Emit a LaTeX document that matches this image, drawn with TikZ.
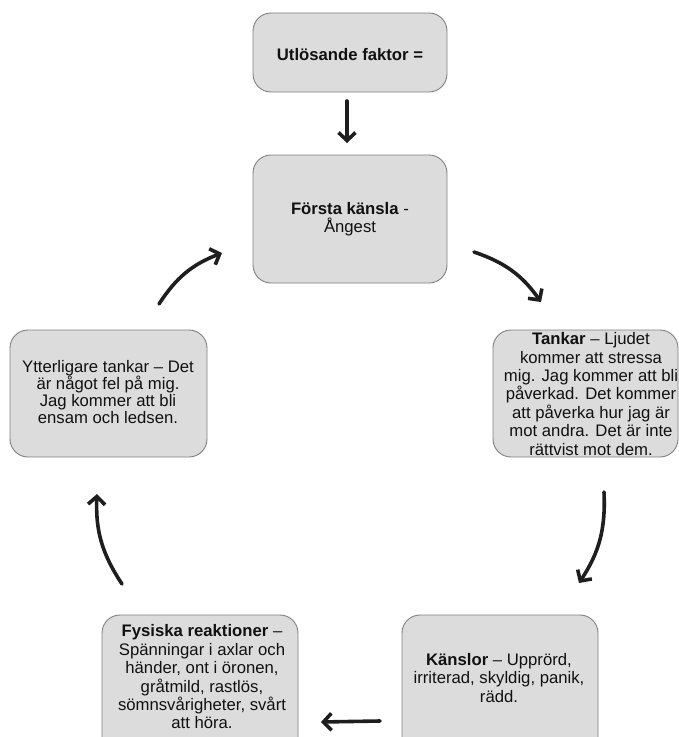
\documentclass[tikz,border=0pt]{standalone}
\usepackage{fontspec}
\setmainfont{Liberation Sans}
\usetikzlibrary{arrows.meta,positioning}
\definecolor{boxfill}{HTML}{DCDCDC}
\definecolor{boxdraw}{HTML}{808080}
\definecolor{arrowc}{HTML}{1E1E1E}
\definecolor{txt}{HTML}{111111}
\tikzset{
  box/.style={draw=boxdraw, line width=0.9pt, fill=boxfill, rounded corners=18pt},
  txtnode/.style={align=center, text=txt, inner sep=0pt, font=\fontsize{16.7}{18.4}\selectfont},
  flow/.style={draw=arrowc, line width=3.6pt, line cap=round,
    -{Straight Barb[length=8pt,width=17pt,line width=3.6pt]}},
}
\begin{document}
\begin{tikzpicture}[x=1pt,y=-1pt]
\useasboundingbox (0,0) rectangle (679,737);
\clip (0,0) rectangle (679,737);
% boxes
\draw[box] (253,13) rectangle (447,92);
\node[txtnode] (t1) at (350,55) {\textbf{Utlösande faktor =}};
\draw[box] (253,155) rectangle (447,283);
\node[txtnode, font=\fontsize{16.7}{17.4}\selectfont] (t2) at (350,219) {\textbf{Första känsla} -\\Ångest};
\draw[box] (493,330) rectangle (678,457);
\node[txtnode] (t3) at (591,394) {\textbf{Tankar} – Ljudet\\kommer att stressa\\mig. Jag kommer att bli\\påverkad. Det kommer\\att påverka hur jag är\\mot andra. Det är inte\\rättvist mot dem.};
\draw[box] (10,330) rectangle (207,457);
\node[txtnode, font=\fontsize{16.7}{17.2}\selectfont] (t6) at (108,392) {Ytterligare tankar – Det\\är något fel på mig.\\Jag kommer att bli\\ensam och ledsen.};
\draw[box] (102,615) rectangle (298,760);
\node[txtnode] (t5) at (202,677) {\textbf{Fysiska reaktioner} –\\Spänningar i axlar och\\händer, ont i öronen,\\gråtmild, rastlös,\\sömnsvårigheter, svårt\\att höra.};
\draw[box] (402,615) rectangle (598,760);
\node[txtnode] (t4) at (499,678) {\textbf{Känslor} – Upprörd,\\irriterad, skyldig, panik,\\rädd.};
% arrow end points
\coordinate (a0s) at (347,101);
\coordinate (a0e) at (347,143);
\coordinate (a1s) at (474,252);
\coordinate (a1e) at (541,302);
\coordinate (a2s) at (604,492);
\coordinate (a2e) at (579,583);
\coordinate (a3s) at (380,721);
\coordinate (a3e) at (321,722);
\coordinate (a4s) at (122,584);
\coordinate (a4e) at (97,494);
\coordinate (a5s) at (159,304);
\coordinate (a5e) at (222,253);
% arrows
\draw[flow] (a0s) -- (a0e);
\draw[flow] (a1s) to[bend left=18] (a1e);
\draw[flow] (a2s) to[bend left=18] (a2e);
\draw[flow] (a3s) -- (a3e);
\draw[flow] (a4s) to[bend left=18] (a4e);
\draw[flow] (a5s) to[bend left=18] (a5e);
\end{tikzpicture}
\end{document}
